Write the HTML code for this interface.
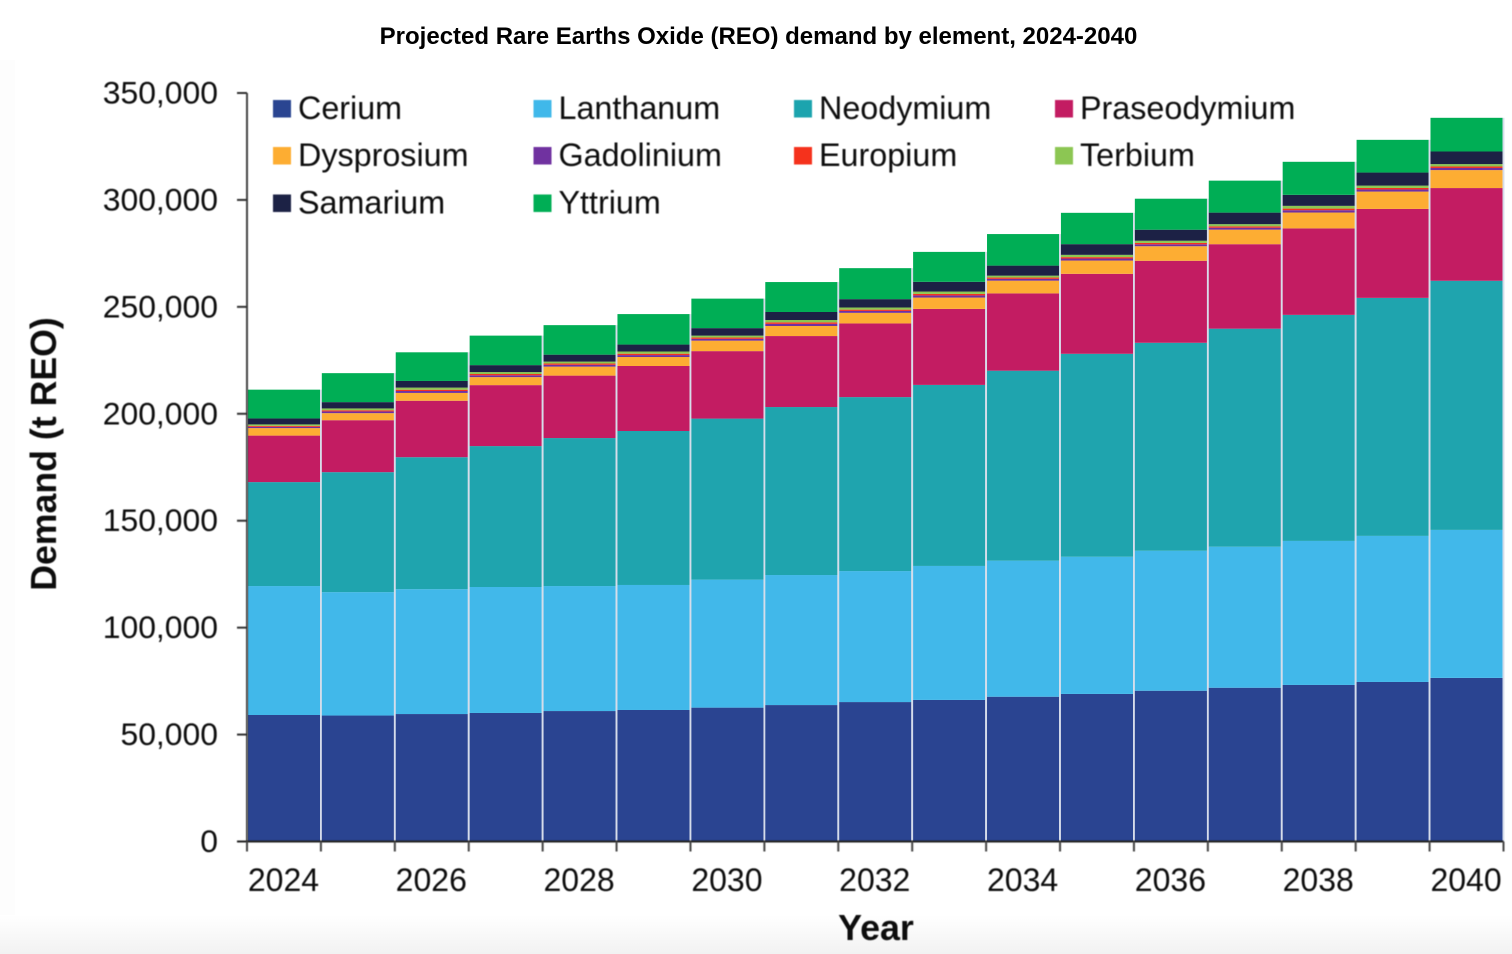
<!DOCTYPE html>
<html>
<head>
<meta charset="utf-8">
<title>Projected Rare Earths Oxide (REO) demand by element, 2024-2040</title>
<style>
html,body{margin:0;padding:0;background:#fff;width:1512px;height:954px;overflow:hidden}
svg{display:block;font-family:"Liberation Sans",Arial,sans-serif}
</style>
</head>
<body>
<svg id="chart" xmlns="http://www.w3.org/2000/svg" width="1512" height="954" viewBox="0 0 1512 954">
  <defs>
    <linearGradient id="bottomFade" x1="0" y1="0" x2="0" y2="1">
      <stop offset="0" stop-color="#ffffff"/>
      <stop offset="1" stop-color="#f2f2f2"/>
    </linearGradient>
    <filter id="soft" x="-5%" y="-5%" width="110%" height="110%"><feGaussianBlur stdDeviation="0.45"/></filter>
  </defs>
  <rect x="0" y="0" width="1512" height="954" fill="#ffffff"/>
  <rect x="0" y="60" width="15" height="894" fill="#fdfdfd"/>
  <rect x="0" y="915" width="1512" height="39" fill="url(#bottomFade)"/>
  <text x="758.5" y="44" text-anchor="middle" font-size="24" font-weight="700" fill="#000">Projected Rare Earths Oxide (REO) demand by element, 2024-2040</text>
  <g id="marks"></g>
  <g id="axes" filter="url(#soft)"></g>
  <g id="legend" filter="url(#soft)"></g>
  <text transform="translate(56 454) rotate(-90)" text-anchor="middle" font-size="35.7" font-weight="700" fill="#111" filter="url(#soft)">Demand (t REO)</text>
  <text x="876" y="940" text-anchor="middle" font-size="35.8" font-weight="700" fill="#111" filter="url(#soft)">Year</text>
</svg>
<script>
const years = [2024,2025,2026,2027,2028,2029,2030,2031,2032,2033,2034,2035,2036,2037,2038,2039,2040];
const yTicks = [0,50000,100000,150000,200000,250000,300000,350000];
const xTickLabels = [2024,2026,2028,2030,2032,2034,2036,2038,2040];

const cerium = [59150,58900,59600,60100,61000,61500,62600,63800,65200,66200,67700,69000,70500,71900,73200,74600,76500];
const lanthanum = [60300,57700,58400,58900,58450,58450,59850,60800,61250,62650,63600,64150,65450,65950,67350,68300,69200];
const neodymium = [48600,56100,61700,65900,69200,72000,75300,78550,81350,84650,88850,94900,97250,101950,105700,111300,116500];
const praseodymium = [21750,24300,26400,28500,29200,30400,31550,33200,34450,35550,36150,37400,38350,39500,40450,41600,43350];
const dysprosium = [3500,3300,3650,3750,4200,4200,4900,4700,4950,5300,5950,6200,6800,6800,7400,8100,8400];
const gadolinium = [600,800,900,850,850,900,850,1000,900,1000,850,950,900,900,1100,1000,1000];
const europium = [450,550,600,600,600,650,600,700,600,700,600,650,650,650,750,700,700];
const terbium = [680,850,1000,900,900,1020,900,1100,1000,1100,890,1070,1020,1020,1280,1100,1100];
const samarium = [2800,2950,3100,3250,3250,3250,3500,3750,3900,4550,4700,5000,5150,5400,5150,6100,5900];
const yttrium = [13450,13550,13400,13800,13800,14250,13800,14000,14500,14000,14750,14650,14500,14950,15450,15300,15750];

const seriesNames = ["Cerium","Lanthanum","Neodymium","Praseodymium","Dysprosium","Gadolinium","Europium","Terbium","Samarium","Yttrium"];
const seriesValues = [cerium,lanthanum,neodymium,praseodymium,dysprosium,gadolinium,europium,terbium,samarium,yttrium];
const seriesColors = ["#2a4491","#41b8ea","#1fa4ae","#c31c62","#fdad33","#7030a0","#f5301e","#8cc652","#1c2145","#00ae55"];

const NS = "http://www.w3.org/2000/svg";
const plotLeft = 247, plotRight = 1503.5, plotBottom = 841.5, plotTop = 93;
const yMax = 350000;

function yScale(v){ return plotBottom - (v / yMax) * (plotBottom - plotTop); }
function xBand(i){ return plotLeft + (i / years.length) * (plotRight - plotLeft); }
function make(tag, attrs, parent){
  const el = document.createElementNS(NS, tag);
  for (const k in attrs) el.setAttribute(k, attrs[k]);
  parent.appendChild(el);
  return el;
}

const marks = document.getElementById("marks");
const axes = document.getElementById("axes");
const legend = document.getElementById("legend");

// stacked bars
years.forEach(function(year, i){
  let cum = 0;
  const x0 = xBand(i), x1 = xBand(i + 1);
  seriesValues.forEach(function(vals, s){
    const yBottom = yScale(cum);
    cum += vals[i];
    const yTop = yScale(cum);
    const r = make("rect", {x: x0 + 0.9, y: yTop, width: x1 - x0 - 1.8, height: yBottom - yTop, fill: seriesColors[s]}, marks);
    
    
  });
  // pale separator at the right-hand edge of each column
  const sep = make("rect", {x: x1 - 0.9, y: yScale(cum), width: 1.8, height: plotBottom - yScale(cum), fill: "#d5dcea"}, marks);
  
  
});

// y axis
const yLine = make("line", {x1: plotLeft, x2: plotLeft, y1: plotTop, y2: plotBottom + 10, stroke: "#444", "stroke-width": 2}, axes);


yTicks.forEach(function(t){
  const y = yScale(t);
  const tick = make("line", {x1: plotLeft - 10, x2: plotLeft, y1: y, y2: y, stroke: "#333", "stroke-width": 2}, axes);
  
  
  const lab = make("text", {x: 218, y: y + 10.5, "text-anchor": "end", "font-size": 31.9, fill: "#111"}, axes);
  
  
  lab.textContent = t.toLocaleString("en-US");
});

// x axis
const xLine = make("line", {x1: plotLeft - 10, x2: plotRight, y1: plotBottom, y2: plotBottom, stroke: "#222", "stroke-width": 2}, axes);


for (let i = 0; i <= years.length; i++) {
  const tick = make("line", {x1: xBand(i), x2: xBand(i), y1: plotBottom, y2: plotBottom + 10, stroke: "#444", "stroke-width": 2}, axes);
  
  
}
xTickLabels.forEach(function(label){
  const i = years.indexOf(label);
  const lab = make("text", {x: (xBand(i) + xBand(i + 1)) / 2 - 0.5, y: 891, "text-anchor": "middle", "font-size": 32, fill: "#111"}, axes);
  
  
  lab.textContent = label;
});

// legend
const legendColumns = [273, 533.5, 794, 1055];
const legendRows = [100, 147, 194.5];
seriesNames.forEach(function(name, s){
  const lx = legendColumns[s % 4];
  const ly = legendRows[Math.floor(s / 4)];
  const entry = make("g", {}, legend);
  
  
  const sw = make("rect", {x: lx, y: ly, width: 18, height: 17.5, fill: seriesColors[s]}, entry);
  
  
  const tx = make("text", {x: lx + 25, y: ly + 19, "font-size": 32.3, fill: "#111"}, entry);
  
  
  tx.textContent = name;
});
</script>
</body>
</html>
